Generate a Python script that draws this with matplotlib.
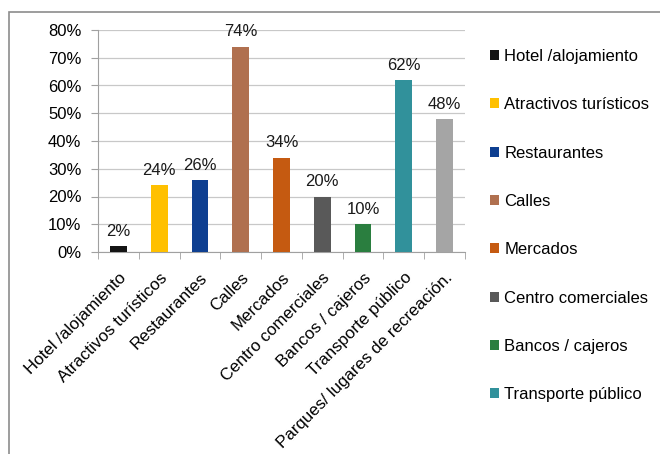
import matplotlib
matplotlib.use("Agg")
import matplotlib.pyplot as plt
from matplotlib.patches import Rectangle
from matplotlib.ticker import MultipleLocator, FuncFormatter
import numpy as np

plt.rcParams['font.family'] = ['Liberation Sans', 'DejaVu Sans']

categories = ["Hotel /alojamiento", "Atractivos turísticos", "Restaurantes", "Calles",
              "Mercados", "Centro comerciales", "Bancos / cajeros", "Transporte público",
              "Parques/ lugares de recreación."]
values = [0.02, 0.24, 0.26, 0.74, 0.34, 0.20, 0.10, 0.62, 0.48]
colors = ["#141414", "#FFC000", "#0E3F91", "#B0704F", "#C55A11", "#595959",
          "#2A7E3F", "#31919B", "#A5A5A5"]

W, H = 660, 454
fig = plt.figure(figsize=(W/100, H/100), dpi=100)
ax = fig.add_axes([98/W, 1-252/H, (465-98)/W, (252-30)/H])

x = np.arange(len(categories))
bars = ax.bar(x, values, width=0.41, color=colors, zorder=3)

for xi, v in zip(x, values):
    ax.text(xi, v + 0.026, f"{v:.0%}", ha='center', va='bottom', fontsize=12, color='#1a1a1a')

ax.set_ylim(0, 0.8)
ax.set_xlim(-0.5, len(categories) - 0.5)
ax.yaxis.set_major_locator(MultipleLocator(0.1))
ax.yaxis.set_major_formatter(FuncFormatter(lambda v, p: f"{v*100:.0f}%"))
ax.grid(axis='y', color='#c8c8c8', linewidth=0.9, zorder=0)

ax.set_xticks(x)
ax.set_xticklabels(categories, rotation=45, ha='right', rotation_mode='anchor', fontsize=12.2)
ax.set_xticks(np.arange(-0.5, len(categories)), minor=True)
ax.tick_params(axis='x', which='major', length=0, pad=13)
ax.tick_params(axis='x', which='minor', length=5, color='#a0a0a0')
ax.tick_params(axis='y', length=5, color='#a0a0a0', labelsize=12, pad=7)

for s in ['top', 'right']:
    ax.spines[s].set_visible(False)
ax.spines['left'].set_color('#a0a0a0')
ax.spines['bottom'].set_color('#a0a0a0')

handles = list(bars.patches[:8])
fig.legend(handles, categories[:8], loc='upper left', bbox_to_anchor=(490/W, 1-49/H),
           frameon=False, fontsize=12, handlelength=0.55, handleheight=0.55,
           handletextpad=0.3, labelspacing=2.0, borderaxespad=0, borderpad=0)

fig.patches.append(Rectangle((9/W, -0.05), 1.1, 1-12/H+0.05, transform=fig.transFigure,
                             fill=False, edgecolor='#8c8c8c', linewidth=1.2, zorder=0))

fig.savefig("out.png", dpi=100)
